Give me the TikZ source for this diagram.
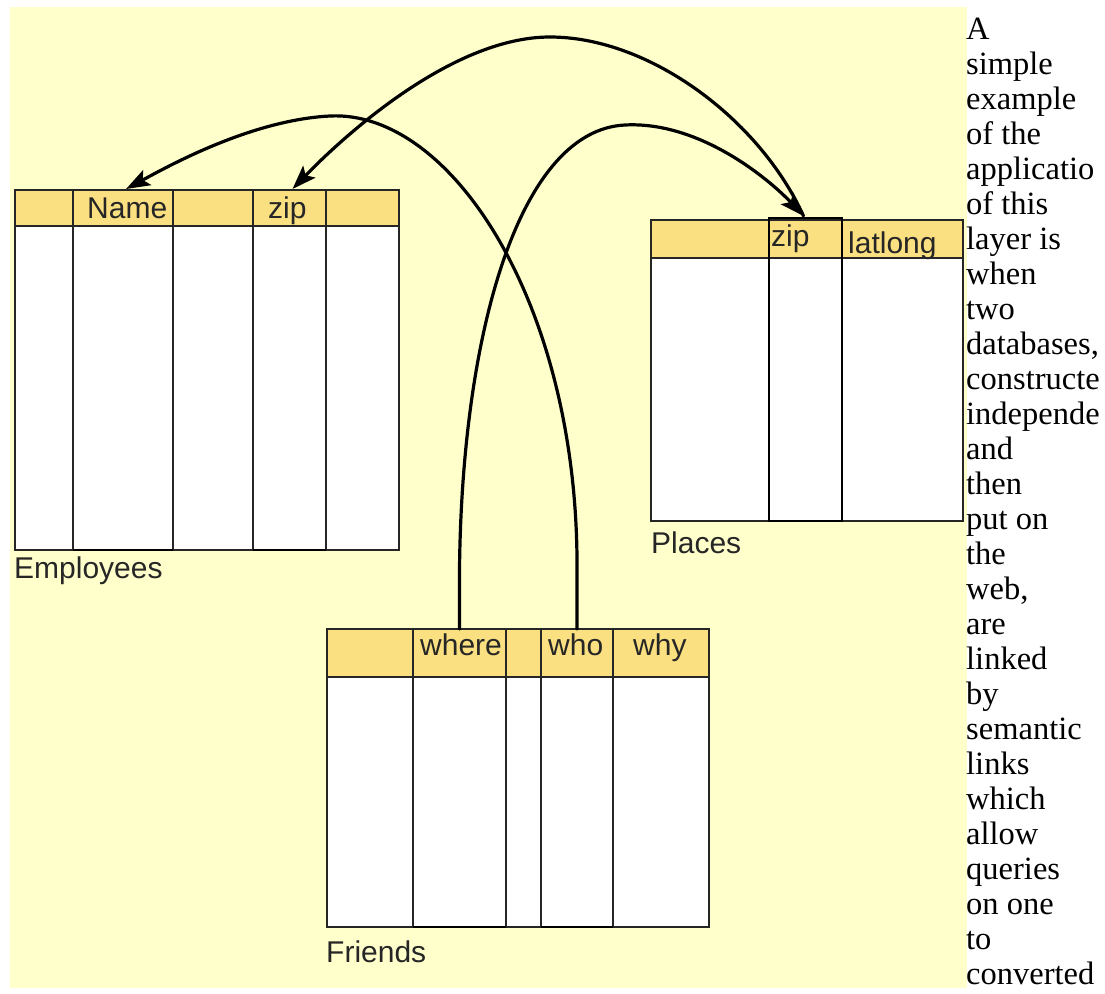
\documentclass[tikz,border=0pt]{standalone}
\usepackage{fontspec}
\setmainfont{Liberation Serif}
\newfontfamily\tabfont{Liberation Sans}
\usetikzlibrary{arrows.meta,positioning,calc}

\definecolor{pagebg}{RGB}{255,255,204}
\definecolor{hdrbg}{RGB}{250,224,128}

\tikzset{
  hcell/.style={draw=black!85,fill=hdrbg,line width=1.4pt,anchor=north west,
    inner sep=0pt,outer sep=0pt},
  bcell/.style={draw=black!85,fill=white,line width=1.4pt,anchor=north west,
    inner sep=0pt,outer sep=0pt},
  lbl/.style={font=\tabfont\fontsize{30}{30}\selectfont,text=black!85,
    inner sep=0pt,anchor=base west},
  link/.style={line width=3.2pt,line cap=round},
  tip/.style={-{Stealth[length=24pt,width=17pt,inset=5pt]}},
  keyline/.style={line width=2.8pt,black}
}

\begin{document}
\begin{tikzpicture}[x=1pt,y=-1pt]
  \useasboundingbox (0,0) rectangle (1105,993);
  \fill[pagebg](10,7)rectangle(967,988);

  % Employees
  \foreach \a/\b [count=\i] in {15/73,73/173,173/253,253/326,326/399}{
    \pgfmathsetmacro\w{\b-\a}
    \node[hcell,minimum width=\w pt,minimum height=36pt](emp-h\i) at (\a,190){};
    \node[bcell,minimum width=\w pt,minimum height=324pt](emp-b\i) at (\a,226){};
  }
  \draw[keyline](emp-b2.south west)--(emp-b2.south east);
  \draw[keyline](emp-b4.south west)--(emp-b4.south east);
  \node[lbl](l-name) at (87,218){Name};
  \node[lbl](l-ezip) at (268,218){zip};
  \node[lbl](l-emp) at (14,578){Employees};

  % Places
  \foreach \a/\b [count=\i] in {651/769,769/842,842/963}{
    \pgfmathsetmacro\w{\b-\a}
    \node[hcell,minimum width=\w pt,minimum height=38pt](pl-h\i) at (\a,220){};
    \node[bcell,minimum width=\w pt,minimum height=263pt](pl-b\i) at (\a,258){};
  }
  \draw[line width=2pt]($(pl-h2.north west)+(0,-2)$)rectangle(pl-b2.south east);
  \draw[keyline]($(pl-h2.north west)+(0,-2)$)--($(pl-h2.north east)+(0,-2)$);
  \node[lbl](l-pzip) at (771,246){zip};
  \node[lbl](l-latlong) at (848,253){latlong};
  \node[lbl](l-places) at (651,553){Places};

  % Friends
  \foreach \a/\b [count=\i] in {327/413,413/506,506/541,541/613,613/709}{
    \pgfmathsetmacro\w{\b-\a}
    \node[hcell,minimum width=\w pt,minimum height=48pt](fr-h\i) at (\a,629){};
    \node[bcell,minimum width=\w pt,minimum height=250pt](fr-b\i) at (\a,677){};
  }
  \draw[keyline](fr-b2.south west)--(fr-b2.south east);
  \draw[keyline](fr-b4.south west)--(fr-b4.south east);
  \node[lbl](l-where) at (420,655){where};
  \node[lbl](l-who) at (548,655){who};
  \node[lbl](l-why) at (633,655){why};
  \node[lbl](l-friends) at (326,962){Friends};

  % semantic links
  \draw[link,tip](fr-h4.north)--++(0,-70)
    .. controls (575,300) and (450,110) .. (330,116)
    .. controls (250,120) and (165,168) .. ([xshift=3pt,yshift=1pt]emp-h2.north);
  \draw[link,tip](fr-h2.north)--++(0,-60)
    .. controls (462,330) and (520,130) .. (625,125)
    .. controls (700,121) and (770,180) .. ([xshift=-2pt,yshift=4pt]pl-h2.north);
  \draw[link,tip]([xshift=-2pt,yshift=4pt]pl-h2.north)
    .. controls (760,120) and (650,37) .. (550,37)
    .. controls (450,37) and (340,140) .. ([xshift=3pt,yshift=1pt]emp-h4.north);

  % text beside the picture
  \foreach \t [count=\i] in {A,simple,example,of the,applicatio,of this,layer is,
    when,two,{databases,},constructe,independe,and,then,put on,the,{web,},are,
    linked,by,semantic,links,which,allow,queries,on one,to,converted}{
    \node[font=\fontsize{32.5}{35}\selectfont,inner sep=0pt,anchor=base west]
      (txt-\i) at (966,4+35*\i){\t};
  }
\end{tikzpicture}
\end{document}
